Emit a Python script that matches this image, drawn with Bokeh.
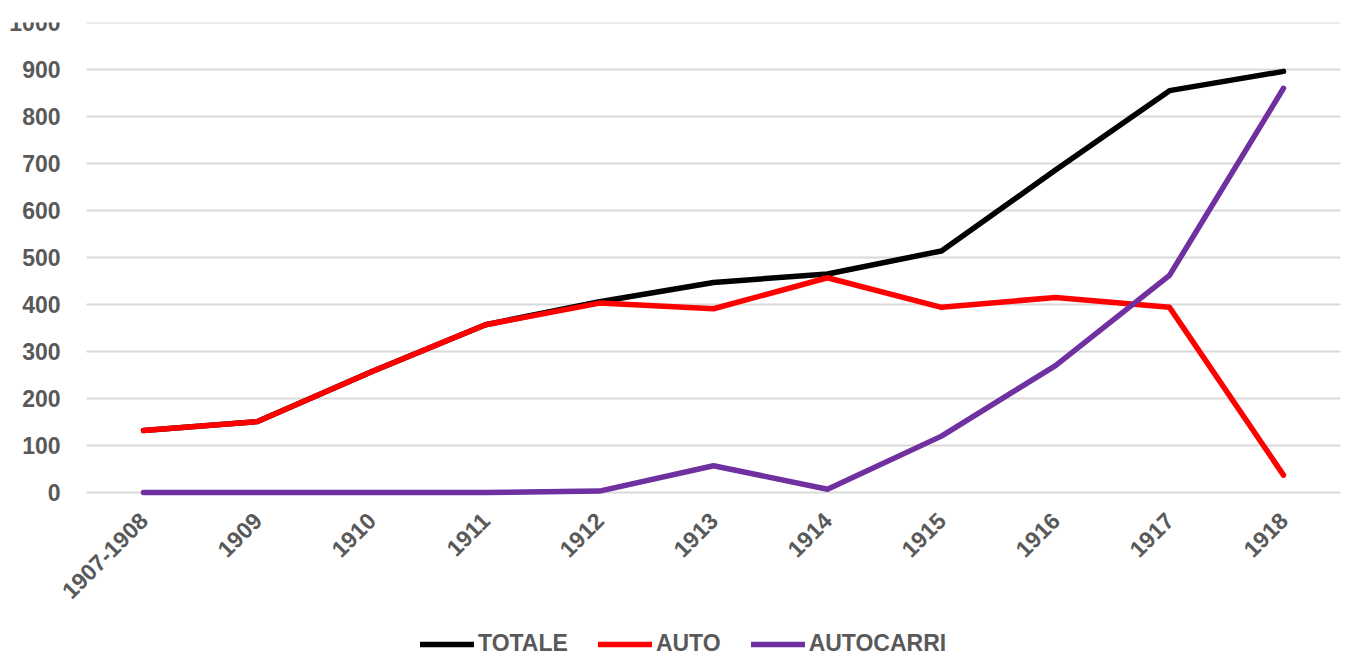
from math import pi
from bokeh.plotting import figure
from bokeh.models import Legend, LegendItem, Range1d, FixedTicker
from bokeh.embed import file_html
from bokeh.resources import INLINE

years = ["1907-1908", "1909", "1910", "1911", "1912", "1913", "1914", "1915", "1916", "1917", "1918"]
totale = [132, 151, 257, 357, 406, 447, 465, 514, 686, 855, 896]
auto = [132, 151, 257, 357, 403, 391, 457, 394, 415, 394, 37]
autocarri = [0, 0, 0, 0, 3, 57, 7, 120, 270, 462, 860]
y_ticks = [0, 100, 200, 300, 400, 500, 600, 700, 800, 900, 1000]

FONT = "Liberation Sans"
GREY = "#595959"

xs = list(range(len(years)))
n = len(years)

# frame covers the whole figure so that no axis label or legend text gets clipped
p = figure(frame_width=1344, frame_height=635,
           x_range=Range1d(-0.5 - 86 / 114, -0.5 - 86 / 114 + 1344 / 114),
           y_range=Range1d(-351, 1000), output_backend="svg", toolbar_location=None,
           min_border_left=0, min_border_right=0, min_border_top=22, min_border_bottom=0)
p.outline_line_color = None
p.background_fill_color = "white"
p.xgrid.grid_line_color = None
p.ygrid.grid_line_color = None

# horizontal gridlines at the value ticks, spanning the category area
p.segment(x0=-0.5, x1=n - 0.5, y0=y_ticks, y1=y_ticks, line_color="#d9d9d9", line_width=2)

r_tot = p.line(xs, totale, line_color="#000000", line_width=5.5, line_join="round", line_cap="round")
r_auto = p.line(xs, auto, line_color="#ff0000", line_width=5.5, line_join="round", line_cap="round")
r_ac = p.line(xs, autocarri, line_color="#7030a0", line_width=5.5, line_join="round", line_cap="round")

p.yaxis.ticker = FixedTicker(ticks=y_ticks)
p.xaxis.ticker = FixedTicker(ticks=xs)
p.xaxis.major_label_overrides = {i: lab for i, lab in zip(xs, years)}
for ax in (p.xaxis, p.yaxis):
    ax.axis_line_color = None
    ax.major_tick_line_color = None
    ax.minor_tick_line_color = None
    ax.major_label_text_font = FONT
    ax.major_label_text_font_style = "bold"
    ax.major_label_text_font_size = "23px"
    ax.major_label_text_color = GREY
p.yaxis.fixed_location = -0.5
p.yaxis.major_label_standoff = 20
p.xaxis.fixed_location = 0
p.xaxis.major_label_orientation = pi / 4
p.xaxis.major_label_standoff = 18

legend = Legend(items=[LegendItem(label="TOTALE", renderers=[r_tot]),
                       LegendItem(label="AUTO", renderers=[r_auto]),
                       LegendItem(label="AUTOCARRI", renderers=[r_ac])],
                orientation="horizontal", location=(420, 0),
                label_text_font=FONT, label_text_font_style="bold",
                label_text_font_size="23px", label_text_color=GREY,
                glyph_width=54, glyph_height=20, label_standoff=4, spacing=30,
                border_line_color=None, background_fill_alpha=0,
                margin=0, padding=0)
p.add_layout(legend, "center")

open("out.html", "w").write(file_html(p, INLINE))
